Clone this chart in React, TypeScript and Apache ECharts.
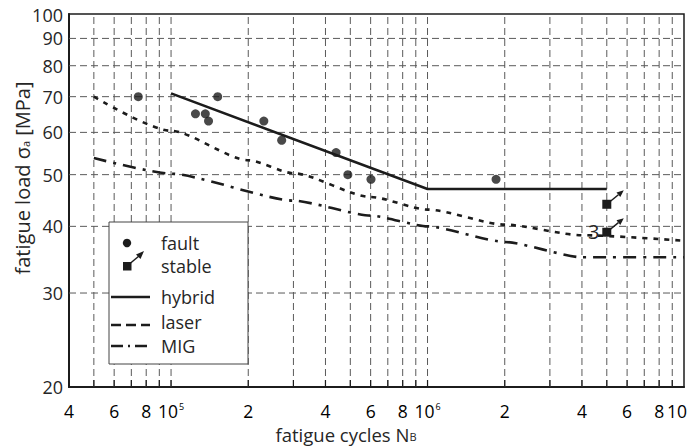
import React, { useEffect, useRef } from 'react';
import * as echarts from 'echarts';

// ---- data (real units) ----
const xTicks = [4e4, 5e4, 6e4, 7e4, 8e4, 9e4, 1e5, 2e5, 3e5, 4e5, 5e5, 6e5, 7e5, 8e5, 9e5, 1e6, 2e6, 3e6, 4e6, 5e6, 6e6, 7e6, 8e6, 9e6, 1e7];
const xTickLabels = ['4', '', '6', '', '8', '', '10^5', '2', '', '4', '', '6', '', '8', '', '10^6', '2', '', '4', '', '6', '', '8', '', '10'];
const yTicks = [20, 30, 40, 50, 60, 70, 80, 90, 100];
const yTickLabels = ['20', '30', '40', '50', '60', '70', '80', '90', '100'];

const hybridN = [1e5, 1e6, 5e6];
const hybridS = [71, 47, 47];

const laserN = [5e4, 1e5, 2e5, 3e5, 6e5, 1e6, 2e6, 4e6, 1e7];
const laserS = [70, 60.4, 53.2, 50.3, 45.4, 43, 40.3, 38.5, 37.6];

const migN = [5e4, 1e5, 3e5, 6e5, 1e6, 2e6, 4e6, 1e7];
const migS = [53.7, 50.2, 44.7, 41.9, 40, 37.4, 35, 35];

const faultN = [7.45e4, 1.245e5, 1.36e5, 1.4e5, 1.52e5, 2.3e5, 2.7e5, 4.4e5, 4.89e5, 6.02e5, 1.85e6];
const faultS = [70, 65, 65, 63, 70, 63, 58, 55, 50, 49, 49];

const stableN = [5e6, 5e6];
const stableS = [44, 39];
const stableLabels = ['', '3'];

// ---- helpers ----
const L = (v: number) => Math.log10(v);
const LX0 = L(4e4);
const LX1 = L(1e7);
const LY0 = L(20);
const LY1 = L(100);
const pts = (n: number[], s: number[]) => n.map((v, i) => [L(v), L(s[i])]);

const FONT = '"Open Sans", "Noto Sans", sans-serif';
const INK = '#1c1c1c';
const TXT = '#262626';
const GRIDC = '#5a5a5a';

const fmtTick = (lab: string) => {
  if (lab.includes('^')) {
    const [b, e] = lab.split('^');
    return `{b|${b}}{s|${e}}`;
  }
  return `{b|${lab}}`;
};

export default function App() {
  const ref = useRef<HTMLDivElement>(null);
  useEffect(() => {
    document.body.style.margin = '0';
    const chart = echarts.init(ref.current!, null, { renderer: 'svg' });

    const tickRich = {
      b: { fontSize: 17.5, fontFamily: FONT, color: TXT, lineHeight: 17 },
      s: { fontSize: 9, fontFamily: FONT, color: TXT, verticalAlign: 'top', lineHeight: 9, padding: [0, 0, 0, 1] },
    };
    const LZ = 100;
    const legendText = (t: string, y: number) => ({
      type: 'text', z: LZ + 2, x: 161, y,
      style: { text: t, fontSize: 18, lineHeight: 18, fontFamily: FONT, fill: TXT, verticalAlign: 'middle' },
    });

    const option: any = {
      animation: false,
      backgroundColor: '#ffffff',
      grid: { left: 69, right: 5, top: 14, bottom: 60, show: true, borderColor: INK, borderWidth: 1.5, backgroundColor: 'transparent' },
      xAxis: {
        type: 'value', min: LX0, max: LX1,
        axisLine: { show: true, onZero: false, lineStyle: { color: INK, width: 2 } },
        axisTick: { show: false }, axisLabel: { show: false }, splitLine: { show: false },
      },
      yAxis: {
        type: 'value', min: LY0, max: LY1,
        axisLine: { show: true, onZero: false, lineStyle: { color: INK, width: 2 } },
        axisTick: { show: false }, axisLabel: { show: false }, splitLine: { show: false },
      },
      graphic: [
        {
          type: 'text', x: 22, y: 178, rotation: Math.PI / 2,
          style: {
            text: 'fatigue load σ{sub|a} [MPa]', align: 'center', verticalAlign: 'middle',
            fontSize: 20, lineHeight: 18, fontFamily: FONT, fill: TXT,
            rich: { sub: { fontSize: 11, fontFamily: FONT, fill: TXT, verticalAlign: 'bottom', padding: [7, 0, 0, 0] } },
          },
        },
        {
          type: 'text', x: 346, y: 434,
          style: {
            text: 'fatigue cycles N{sub|B}', align: 'center', verticalAlign: 'middle',
            fontSize: 18.5, lineHeight: 16, fontFamily: FONT, fill: TXT,
            rich: { sub: { fontSize: 11, lineHeight: 16, fontFamily: FONT, fill: TXT, verticalAlign: 'bottom', padding: [6, 0, 0, 0] } },
          },
        },
        // legend box
        { type: 'rect', z: LZ, shape: { x: 109, y: 222, width: 139, height: 142 }, style: { fill: '#fff', stroke: '#444', lineWidth: 1 } },
        { type: 'circle', z: LZ + 1, shape: { cx: 127, cy: 243, r: 4.2 }, style: { fill: INK } },
        { type: 'rect', z: LZ + 1, shape: { x: 123, y: 262, width: 8.5, height: 8.5 }, style: { fill: INK } },
        { type: 'line', z: LZ + 1, shape: { x1: 127, y1: 266, x2: 139, y2: 256 }, style: { stroke: INK, lineWidth: 1.5 } },
        { type: 'polygon', z: LZ + 1, shape: { points: [[144, 251], [136, 254.5], [140.5, 259]] }, style: { fill: INK } },
        { type: 'line', z: LZ + 1, shape: { x1: 111, y1: 297, x2: 150, y2: 297 }, style: { stroke: INK, lineWidth: 2.5 } },
        { type: 'line', z: LZ + 1, shape: { x1: 111, y1: 325, x2: 150, y2: 325 }, style: { stroke: INK, lineWidth: 2.5, lineDash: [10, 5] } },
        { type: 'line', z: LZ + 1, shape: { x1: 111, y1: 346, x2: 150, y2: 346 }, style: { stroke: INK, lineWidth: 2.5, lineDash: [12, 5, 2, 5] } },
        legendText('fault', 242.5),
        legendText('stable', 266),
        legendText('hybrid', 297),
        legendText('laser', 322),
        legendText('MIG', 346),
      ],
      series: [
        {
          type: 'custom', name: 'xgrid', silent: true, z: 1,
          data: xTicks.map((v) => [L(v), LY0]),
          renderItem: (params: any, api: any) => {
            const i = params.dataIndex;
            const v = xTicks[i];
            const b = api.coord([L(v), LY0]);
            const t = api.coord([L(v), LY1]);
            const children: any[] = [];
            if (v > 4e4 && v < 1e7) {
              children.push({ type: 'line', shape: { x1: b[0], y1: b[1], x2: t[0], y2: t[1] }, style: { stroke: GRIDC, lineWidth: 1, lineDash: [7, 4] } });
              children.push({ type: 'line', shape: { x1: b[0], y1: b[1], x2: b[0], y2: b[1] - 7 }, style: { stroke: INK, lineWidth: 1.2 } });
            }
            const lab = xTickLabels[i];
            if (lab) {
              const last = i === xTicks.length - 1;
              children.push({
                type: 'text', x: last ? b[0] + 3 : b[0], y: b[1] + 23.5,
                style: { text: fmtTick(lab), align: last ? 'right' : 'center', verticalAlign: 'middle', rich: tickRich },
              });
            }
            return { type: 'group', children };
          },
        },
        {
          type: 'custom', name: 'ygrid', silent: true, z: 1,
          data: yTicks.map((v) => [LX0, L(v)]),
          renderItem: (params: any, api: any) => {
            const i = params.dataIndex;
            const v = yTicks[i];
            const l = api.coord([LX0, L(v)]);
            const r = api.coord([LX1, L(v)]);
            const children: any[] = [];
            if (v > 20 && v < 100) {
              children.push({ type: 'line', shape: { x1: l[0], y1: l[1], x2: r[0], y2: r[1] }, style: { stroke: GRIDC, lineWidth: 1, lineDash: [7, 4] } });
            }
            children.push({
              type: 'text', x: l[0] - 6, y: v === 100 ? l[1] + 1 : l[1],
              style: { text: yTickLabels[i], align: 'right', verticalAlign: 'middle', fontSize: 18, lineHeight: 15, fontFamily: FONT, fill: TXT },
            });
            return { type: 'group', children };
          },
        },
        {
          type: 'line', name: 'hybrid', z: 5, symbol: 'none', silent: true,
          data: pts(hybridN, hybridS),
          lineStyle: { color: INK, width: 2.6 },
        },
        {
          type: 'line', name: 'laser', z: 5, symbol: 'none', silent: true, smooth: 0.25, smoothMonotone: 'x',
          data: pts(laserN, laserS),
          lineStyle: { color: INK, width: 2.6, type: [5, 6], cap: 'butt' },
        },
        {
          type: 'line', name: 'MIG', z: 5, symbol: 'none', silent: true, smooth: 0.2, smoothMonotone: 'x',
          data: pts(migN, migS),
          lineStyle: { color: INK, width: 2.6, type: [13, 7, 3, 7], cap: 'butt' },
        },
        {
          type: 'scatter', name: 'fault', z: 6, silent: true,
          data: pts(faultN, faultS),
          symbol: 'circle', symbolSize: 9,
          itemStyle: { color: INK },
        },
        {
          type: 'custom', name: 'stable', z: 7, silent: true,
          data: pts(stableN, stableS),
          renderItem: (params: any, api: any) => {
            const i = params.dataIndex;
            const p = api.coord([api.value(0), api.value(1)]);
            const ex = p[0] + 17, ey = p[1] - 14;
            const len = Math.hypot(17, 14);
            const ux = 17 / len, uy = -14 / len;
            const nx = -uy, ny = ux;
            const bx = ex - 7 * ux, by = ey - 7 * uy;
            const children: any[] = [
              { type: 'rect', shape: { x: p[0] - 4.5, y: p[1] - 4.5, width: 9, height: 9 }, style: { fill: INK } },
              { type: 'line', shape: { x1: p[0], y1: p[1], x2: bx, y2: by }, style: { stroke: INK, lineWidth: 1.5 } },
              { type: 'polygon', shape: { points: [[ex, ey], [bx + 3 * nx, by + 3 * ny], [bx - 3 * nx, by - 3 * ny]] }, style: { fill: INK } },
            ];
            if (stableLabels[i]) {
              children.push({ type: 'text', x: p[0] - 13, y: p[1] - 1, style: { text: stableLabels[i], align: 'center', verticalAlign: 'middle', fontSize: 20, fontFamily: FONT, fill: TXT } });
            }
            return { type: 'group', children };
          },
        },
      ],
    };

    chart.setOption(option);
    return () => chart.dispose();
  }, []);
  return <div ref={ref} style={{ width: 689, height: 447 }} />;
}
